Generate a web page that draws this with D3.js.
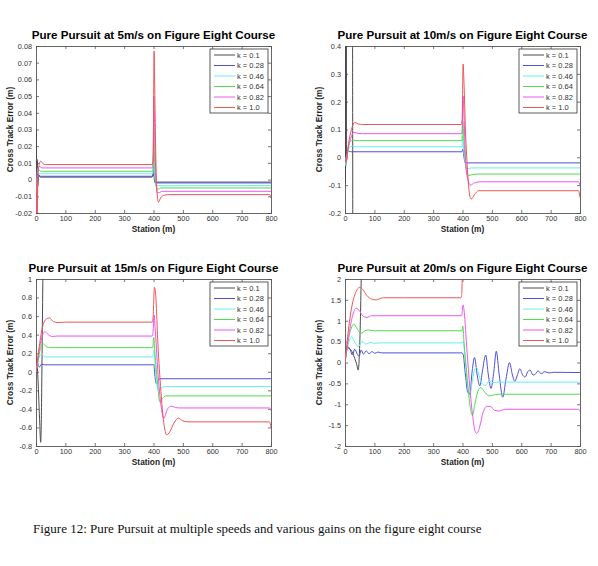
<!DOCTYPE html>
<html>
<head>
<meta charset="utf-8">
<script src="https://cdn.jsdelivr.net/npm/d3@7"></script>
<style>
  body { margin: 0; background: #fff; }
  svg { font-family: "Liberation Sans", Arial, sans-serif; }
</style>
</head>
<body>
<script>
// legend entries (lookahead gain k) and colours
var gains = ['0.1', '0.28', '0.46', '0.64', '0.82', '1.0'];
var lineColors = ['#4a4a4a', '#5050d8', '#66eeee', '#50dd50', '#ee55ee', '#ee5555'];
var speeds = [5, 10, 15, 20];

var xTicks = [0, 100, 200, 300, 400, 500, 600, 700, 800];

var yTicks5 = [-0.02, -0.01, 0, 0.01, 0.02, 0.03, 0.04, 0.05, 0.06, 0.07, 0.08];
var yLabels5 = ['-0.02', '-0.01', '0', '0.01', '0.02', '0.03', '0.04', '0.05', '0.06', '0.07', '0.08'];
var yTicks10 = [-0.2, -0.1, 0, 0.1, 0.2, 0.3, 0.4];
var yLabels10 = ['-0.2', '-0.1', '0', '0.1', '0.2', '0.3', '0.4'];
var yTicks15 = [-0.8, -0.6, -0.4, -0.2, 0, 0.2, 0.4, 0.6, 0.8, 1];
var yLabels15 = ['-0.8', '-0.6', '-0.4', '-0.2', '0', '0.2', '0.4', '0.6', '0.8', '1'];
var yTicks20 = [-2, -1.5, -1, -0.5, 0, 0.5, 1, 1.5, 2];
var yLabels20 = ['-2', '-1.5', '-1', '-0.5', '0', '0.5', '1', '1.5', '2'];

// [station (m), cross track error (m)] for k = 0.1 ... 1.0
var speed5 = [
  [[0,0],[1,0.03],[2.5,-0.03],[4,0.012],[6,-0.004],[9,0.003],[14,0.0015],[395,0.0015],[400,0.004],[405,-0.002],[410,-0.0015],[800,-0.0015]],
  [[0,0],[2,-0.006],[5,0.004],[9,0.0022],[15,0.002],[398,0.002],[401,0.008],[404,0.001],[407,-0.002],[800,-0.002]],
  [[0,0],[2,-0.01],[5,0.006],[10,0.0038],[16,0.0035],[398,0.0035],[401,0.016],[404,0.003],[408,-0.003],[413,-0.0037],[800,-0.0035]],
  [[0,0],[2,-0.014],[6,0.007],[11,0.0055],[18,0.005],[398,0.005],[401,0.03],[404,0.01],[409,-0.004],[415,-0.0058],[425,-0.005],[800,-0.005]],
  [[0,0],[2.5,-0.02],[6,0.006],[12,0.0078],[20,0.007],[397,0.007],[399,0.012],[401,0.05],[404,0.03],[408,0.002],[413,-0.008],[420,-0.0078],[430,-0.007],[800,-0.007]],
  [[0,0],[3,-0.025],[7,0.004],[11,0.009],[16,0.011],[24,0.0095],[32,0.009],[396,0.009],[399,0.015],[402,0.077],[405,0.045],[409,0.005],[412,-0.008],[417,-0.0135],[424,-0.011],[435,-0.0095],[450,-0.009],[796,-0.009],[800,-0.011]]
];

var speed10 = [
  [[0,0],[1.5,-0.09],[2.5,0.5],[3.5,0.5],[4.2,0.0],[5,0.5],[25.5,0.5],[26.5,-0.3]],
  [[0,0],[3,-0.03],[7,0.01],[12,0.022],[20,0.02],[398,0.02],[401,0.03],[405,0.0],[410,-0.02],[800,-0.02]],
  [[0,0],[3,-0.03],[8,0.01],[15,0.036],[25,0.04],[35,0.038],[398,0.038],[401,0.075],[405,0.02],[411,-0.03],[418,-0.042],[430,-0.038],[800,-0.038]],
  [[0,0],[3,-0.025],[9,0.02],[17,0.055],[27,0.062],[40,0.06],[398,0.06],[401,0.13],[405,0.06],[412,-0.04],[420,-0.065],[435,-0.062],[450,-0.06],[800,-0.06]],
  [[0,0],[3,-0.02],[10,0.03],[20,0.07],[30,0.09],[45,0.086],[60,0.085],[397,0.085],[399,0.1],[402,0.22],[405,0.15],[410,0.0],[418,-0.08],[428,-0.1],[440,-0.092],[460,-0.088],[795,-0.088],[800,-0.1]],
  [[0,0],[3,-0.015],[12,0.05],[22,0.1],[33,0.125],[45,0.12],[60,0.118],[396,0.118],[399,0.14],[402,0.335],[405,0.27],[410,0.1],[418,-0.06],[425,-0.14],[430,-0.15],[440,-0.135],[455,-0.12],[470,-0.12],[795,-0.12],[800,-0.145]]
];

var speed15 = [
  [[0,0],[3,0.1],[7,-0.1],[12,-0.5],[16,-0.76],[18,-0.55],[21,0.3],[24,1.2]],
  [[0,0],[4,0.1],[8,0.07],[12,0.05],[18,0.08],[30,0.075],[398,0.075],[401,0.08],[405,-0.05],[410,-0.13],[415,-0.1],[422,-0.075],[800,-0.075]],
  [[0,0],[5,0.08],[12,0.17],[20,0.19],[30,0.16],[45,0.16],[398,0.16],[401,0.23],[406,0.05],[412,-0.15],[420,-0.2],[430,-0.165],[445,-0.16],[800,-0.16]],
  [[0,0],[6,0.1],[15,0.25],[25,0.3],[35,0.27],[50,0.26],[397,0.26],[401,0.37],[405,0.2],[413,-0.1],[422,-0.33],[430,-0.29],[442,-0.26],[800,-0.26]],
  [[0,0],[7,0.15],[18,0.35],[30,0.43],[42,0.4],[55,0.38],[70,0.385],[396,0.385],[399,0.45],[402,0.61],[406,0.45],[415,0.0],[425,-0.35],[435,-0.5],[448,-0.4],[460,-0.37],[475,-0.385],[490,-0.39],[795,-0.39],[800,-0.42]],
  [[0,0],[8,0.2],[20,0.45],[32,0.56],[45,0.58],[60,0.54],[75,0.53],[100,0.535],[396,0.535],[399,0.6],[403,0.91],[407,0.85],[415,0.3],[425,-0.2],[435,-0.55],[445,-0.68],[455,-0.65],[470,-0.55],[485,-0.5],[500,-0.53],[520,-0.54],[795,-0.54],[800,-0.6]]
];

var speed20 = [
  [[0,0],[8,0.35],[20,0.3],[33,0.1],[40,-0.05],[45,-0.18],[50,0.4],[56,2.3]],
  [[0,0],[10,0.38],[18,0.3],[25,0.18],[33,0.32],[42,0.2],[48,0.15],[55,0.3],[63,0.2],[72,0.28],[82,0.21],[92,0.26],[102,0.22],[112,0.25],[125,0.23],[398,0.23],[402,0.2],[410,-0.3],[418,-0.72],[425,-0.75],[433,-0.2],[441,0.12],[450,-0.3],[459,-0.56],[468,-0.2],[479,0.18],[488,-0.3],[497,-0.62],[507,-0.2],[515,0.27],[525,-0.3],[537,-0.83],[548,-0.4],[560,0.0],[570,-0.3],[578,-0.45],[587,-0.3],[595,-0.15],[605,-0.3],[613,-0.35],[622,-0.22],[630,-0.18],[640,-0.3],[648,-0.28],[657,-0.2],[668,-0.27],[680,-0.22],[695,-0.25],[710,-0.235],[800,-0.24]],
  [[0,0],[10,0.4],[22,0.62],[32,0.5],[45,0.38],[58,0.5],[72,0.44],[85,0.48],[100,0.46],[120,0.47],[398,0.47],[402,0.5],[410,0.0],[418,-0.6],[425,-0.8],[432,-0.5],[440,-0.2],[448,-0.12],[456,-0.3],[466,-0.5],[478,-0.55],[490,-0.45],[505,-0.48],[520,-0.47],[800,-0.47]],
  [[0,0],[10,0.5],[20,0.8],[30,0.92],[42,0.8],[55,0.7],[68,0.76],[80,0.78],[100,0.76],[398,0.76],[401,0.87],[405,0.5],[415,-0.3],[425,-1.0],[434,-1.27],[442,-1.0],[452,-0.7],[462,-0.6],[475,-0.7],[490,-0.8],[505,-0.78],[520,-0.76],[800,-0.76]],
  [[0,0],[12,0.6],[25,1.1],[38,1.3],[48,1.25],[60,1.12],[75,1.08],[90,1.12],[110,1.12],[397,1.12],[399,1.2],[402,1.38],[406,1.2],[415,0.3],[425,-0.6],[435,-1.3],[443,-1.65],[449,-1.7],[458,-1.55],[470,-1.2],[482,-1.05],[495,-1.05],[510,-1.15],[525,-1.16],[545,-1.12],[795,-1.12],[800,-1.17]],
  [[0,0],[12,0.8],[25,1.4],[38,1.7],[50,1.8],[60,1.75],[75,1.6],[90,1.52],[105,1.5],[130,1.55],[200,1.55],[393,1.55],[397,1.6],[400,2.4]]
];

drawFigure();

function drawFigure() {
  var svg = d3.select('body').append('svg')
    .attr('width', 598).attr('height', 566);

  var panels = [
    {speed: speeds[0], series: speed5, ticks: yTicks5, labels: yLabels5, left: 36, top: 46},
    {speed: speeds[1], series: speed10, ticks: yTicks10, labels: yLabels10, left: 345, top: 46},
    {speed: speeds[2], series: speed15, ticks: yTicks15, labels: yLabels15, left: 36, top: 279},
    {speed: speeds[3], series: speed20, ticks: yTicks20, labels: yLabels20, left: 345, top: 279}
  ];

  panels.forEach(function(p, i) {
    drawPanel(svg, p, i);
  });

  svg.append('text')
    .attr('x', 33).attr('y', 533)
    .style('font-family', '"Liberation Serif", "Times New Roman", serif')
    .style('font-size', '13px')
    .attr('fill', '#111')
    .text('Figure 12: Pure Pursuit at multiple speeds and various gains on the figure eight course');
}

function drawPanel(svg, p, idx) {
  var width = 235;
  var height = 167;
  var yDomain = [p.ticks[0], p.ticks[p.ticks.length - 1]];

  var x = d3.scaleLinear().domain([0, 800]).range([0, width]);
  var y = d3.scaleLinear().domain(yDomain).range([height, 0]);

  var g = svg.append('g').attr('transform', 'translate(' + p.left + ',' + p.top + ')');

  g.append('defs').append('clipPath').attr('id', 'clip' + idx)
    .append('rect').attr('width', width).attr('height', height);

  // axes: ticks pointing inward on all four sides
  var axisColor = '#555';
  var bottom = g.append('g').attr('transform', 'translate(0,' + height + ')')
    .call(d3.axisBottom(x).tickValues(xTicks).tickSize(-3).tickPadding(3).tickFormat(d3.format('d')));
  var top = g.append('g')
    .call(d3.axisTop(x).tickValues(xTicks).tickSize(-3).tickFormat(''));
  var left = g.append('g')
    .call(d3.axisLeft(y).tickValues(p.ticks).tickSize(-3).tickPadding(4)
      .tickFormat(function(d, i) { return p.labels[i]; }));
  var right = g.append('g').attr('transform', 'translate(' + width + ',0)')
    .call(d3.axisRight(y).tickValues(p.ticks).tickSize(-3).tickFormat(''));

  [bottom, top, left, right].forEach(function(a) {
    a.select('.domain').attr('stroke', axisColor).attr('stroke-width', 0.9);
    a.selectAll('.tick line').attr('stroke', axisColor).attr('stroke-width', 0.8);
    a.selectAll('.tick text').attr('fill', '#333').style('font-size', '7.3px');
  });

  // series lines
  var line = d3.line()
    .curve(d3.curveMonotoneX)
    .x(function(d) { return x(d[0]); })
    .y(function(d) { return y(d[1]); });

  g.append('g').attr('clip-path', 'url(#clip' + idx + ')')
    .selectAll('path')
    .data(p.series)
    .enter()
    .append('path')
    .attr('d', line)
    .attr('fill', 'none')
    .attr('stroke', function(d, i) { return lineColors[i]; })
    .attr('stroke-width', 1);

  // title and axis labels
  g.append('text')
    .attr('x', width / 2).attr('y', -7)
    .attr('text-anchor', 'middle')
    .style('font-size', '11.6px').style('font-weight', 'bold')
    .text('Pure Pursuit at ' + p.speed + 'm/s on Figure Eight Course');

  g.append('text')
    .attr('x', width / 2).attr('y', height + 19)
    .attr('text-anchor', 'middle')
    .style('font-size', '8.3px').style('font-weight', 'bold').attr('fill', '#222')
    .text('Station (m)');

  g.append('text')
    .attr('transform', 'translate(-23,' + (height / 2) + ') rotate(-90)')
    .attr('text-anchor', 'middle')
    .style('font-size', '8.3px').style('font-weight', 'bold').attr('fill', '#222')
    .text('Cross Track Error (m)');

  // legend
  var lg = g.append('g').attr('transform', 'translate(' + (width - 61) + ',3)');
  lg.append('rect')
    .attr('width', 58).attr('height', 64)
    .attr('fill', '#fff').attr('stroke', '#333').attr('stroke-width', 0.8);
  var items = lg.selectAll('g.item')
    .data(gains)
    .enter()
    .append('g')
    .attr('class', 'item')
    .attr('transform', function(d, i) { return 'translate(0,' + (6 + i * 10.5) + ')'; });
  items.append('line')
    .attr('x1', 4).attr('x2', 25)
    .attr('stroke', function(d, i) { return lineColors[i]; })
    .attr('stroke-width', 1);
  items.append('text')
    .attr('x', 27).attr('y', 2.6)
    .style('font-size', '7.5px').attr('fill', '#333')
    .text(function(d) { return 'k = ' + d; });
}
</script>
</body>
</html>
